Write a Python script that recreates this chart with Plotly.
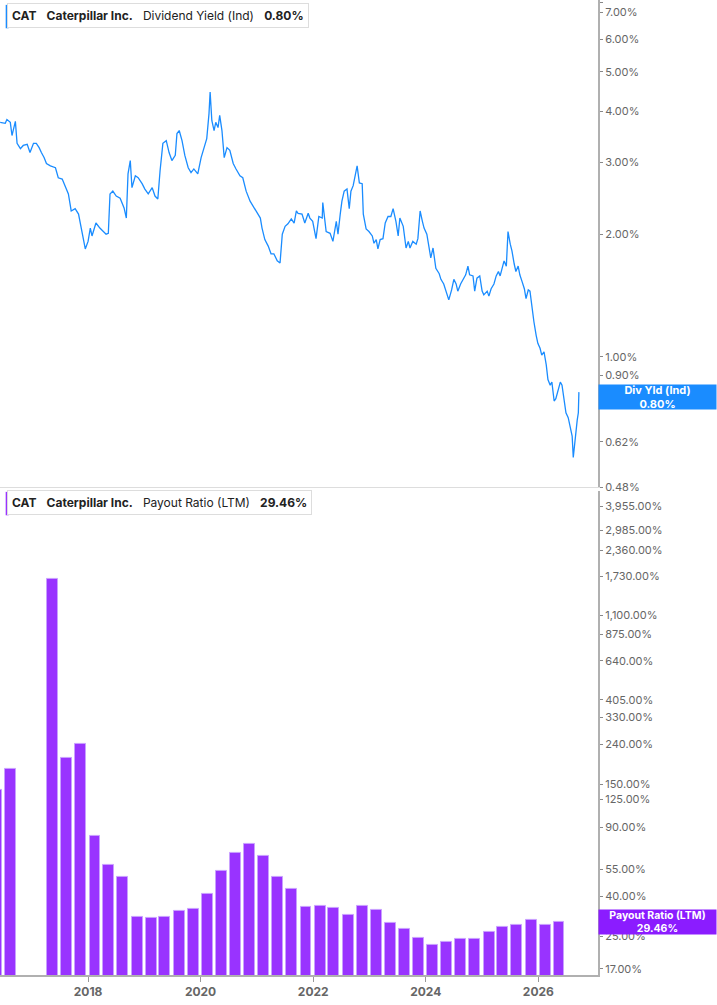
import plotly.graph_objects as go
from plotly.subplots import make_subplots
import pandas as pd
import math

# Dividend yield (%) sampled by decimal year
yld_year = [2016.44,2016.53,2016.56,2016.62,2016.65,2016.71,2016.74,2016.80,2016.85,2016.92,2016.97,2017.03,2017.08,2017.13,2017.17,2017.22,2017.26,2017.33,2017.42,2017.47,2017.54,2017.59,2017.65,2017.70,2017.77,2017.83,2017.86,2017.90,2017.95,2018.00,2018.04,2018.07,2018.14,2018.21,2018.27,2018.32,2018.36,2018.39,2018.44,2018.50,2018.57,2018.64,2018.68,2018.71,2018.75,2018.78,2018.84,2018.89,2018.96,2019.01,2019.07,2019.14,2019.19,2019.24,2019.28,2019.33,2019.39,2019.44,2019.49,2019.55,2019.58,2019.62,2019.67,2019.72,2019.78,2019.83,2019.88,2019.95,2020.01,2020.06,2020.11,2020.15,2020.17,2020.20,2020.24,2020.27,2020.31,2020.34,2020.38,2020.42,2020.47,2020.52,2020.58,2020.63,2020.70,2020.75,2020.81,2020.88,2020.95,2021.00,2021.06,2021.09,2021.14,2021.20,2021.25,2021.30,2021.36,2021.41,2021.45,2021.50,2021.55,2021.61,2021.66,2021.70,2021.73,2021.80,2021.85,2021.91,2021.94,2021.99,2022.05,2022.10,2022.16,2022.17,2022.23,2022.30,2022.35,2022.41,2022.44,2022.48,2022.51,2022.55,2022.60,2022.64,2022.67,2022.71,2022.74,2022.78,2022.82,2022.87,2022.89,2022.94,2022.99,2023.05,2023.08,2023.12,2023.15,2023.19,2023.24,2023.28,2023.33,2023.38,2023.42,2023.47,2023.51,2023.54,2023.60,2023.65,2023.69,2023.72,2023.77,2023.83,2023.86,2023.90,2023.94,2023.97,2024.02,2024.06,2024.09,2024.13,2024.18,2024.24,2024.27,2024.32,2024.36,2024.41,2024.46,2024.50,2024.54,2024.57,2024.62,2024.68,2024.71,2024.75,2024.78,2024.84,2024.87,2024.91,2024.96,2025.00,2025.03,2025.09,2025.12,2025.16,2025.21,2025.25,2025.29,2025.32,2025.36,2025.39,2025.43,2025.46,2025.50,2025.53,2025.57,2025.60,2025.64,2025.67,2025.71,2025.75,2025.78,2025.82,2025.85,2025.89,2025.92,2025.96,2025.99,2026.03,2026.06,2026.10,2026.14,2026.17,2026.21,2026.24,2026.28,2026.31,2026.35,2026.39,2026.42,2026.46,2026.49,2026.53,2026.56,2026.60,2026.62,2026.65,2026.69,2026.71,2026.72]
yld_val = [3.76,3.74,3.82,3.76,3.49,3.78,3.34,3.24,3.30,3.32,3.17,3.34,3.34,3.26,3.17,3.08,2.98,2.94,2.91,2.75,2.73,2.63,2.51,2.28,2.31,2.24,2.12,2.00,1.84,1.92,2.07,1.98,2.13,2.07,2.03,2.00,2.01,2.51,2.55,2.48,2.45,2.32,2.19,2.81,3.03,2.60,2.78,2.75,2.66,2.58,2.51,2.60,2.48,2.44,2.86,3.34,3.39,3.17,3.03,3.12,3.53,3.59,3.39,3.12,2.91,2.83,2.89,2.81,3.08,3.24,3.43,3.95,4.46,3.80,3.59,3.76,3.65,3.91,3.59,3.08,3.26,3.21,2.98,2.89,2.78,2.75,2.55,2.41,2.32,2.25,2.19,2.07,1.94,1.87,1.79,1.79,1.72,1.70,2.00,2.09,2.12,2.18,2.13,2.28,2.25,2.24,2.13,2.25,2.19,2.15,1.95,2.21,2.19,2.39,2.03,2.01,1.92,2.15,2.00,2.24,2.41,2.55,2.58,2.31,2.55,2.63,2.75,2.94,2.67,2.66,2.24,2.06,2.03,1.98,1.90,1.94,1.84,1.94,1.95,2.13,2.21,2.21,2.31,2.15,1.98,2.19,2.09,1.85,1.92,1.85,1.92,1.89,1.95,2.28,2.15,2.07,2.00,1.82,1.75,1.85,1.65,1.60,1.55,1.51,1.45,1.38,1.46,1.55,1.51,1.45,1.51,1.56,1.59,1.67,1.59,1.58,1.45,1.56,1.58,1.45,1.42,1.45,1.41,1.47,1.51,1.58,1.62,1.58,1.67,1.72,1.67,2.03,1.89,1.82,1.69,1.62,1.67,1.59,1.53,1.47,1.39,1.46,1.45,1.29,1.22,1.13,1.08,1.05,1.01,1.03,0.956,0.88,0.853,0.868,0.78,0.79,0.83,0.868,0.853,0.774,0.73,0.71,0.68,0.64,0.567,0.63,0.70,0.73,0.82,0.80]

# Payout ratio (LTM, %) quarterly
pay_dates = ["2016-05-15","2016-08-15","2016-11-15","2017-02-15","2017-05-15","2017-08-15","2017-11-15",
             "2018-02-15","2018-05-15","2018-08-15","2018-11-15","2019-02-15","2019-05-15","2019-08-15","2019-11-15",
             "2020-02-15","2020-05-15","2020-08-15","2020-11-15","2021-02-15","2021-05-15","2021-08-15","2021-11-15",
             "2022-02-15","2022-05-15","2022-08-15","2022-11-15","2023-02-15","2023-05-15","2023-08-15","2023-11-15",
             "2024-02-15","2024-05-15","2024-08-15","2024-11-15","2025-02-15","2025-05-15","2025-08-15","2025-11-15",
             "2026-02-15","2026-05-15"]
pay_val = [140,180,None,None,1690,203,240,81,58,50,31.4,30.8,31.4,33.6,34.4,41,54,66.5,74,64,50,43.5,35.3,
           35.8,34.8,32,35.8,34,29.2,27.2,24.5,22.6,23.4,24.2,24.2,26.3,27.9,28.5,30.3,28.5,29.46]

top_ticks = [0.48,0.62,0.76,0.90,1.00,2.00,3.00,4.00,5.00,6.00,7.00,7.39]
bot_ticks = [17,25,40,55,90,125,150,240,330,405,640,875,1100,1730,2360,2985,3955]
x_years = [2018,2020,2022,2024,2026]

def yr2date(y):
    yi = int(y)
    return pd.Timestamp(yi, 1, 1) + pd.Timedelta(days=(y - yi) * 365.25)

yld_dates = [yr2date(y) for y in yld_year]

BLUE = "#1a8cff"
PURP = "#9933ff"
GRAY = "#666"

fig = make_subplots(rows=2, cols=1, shared_xaxes=True, vertical_spacing=0.004,
                    row_heights=[0.5015, 0.4985])
fig.add_trace(go.Scatter(x=yld_dates, y=yld_val, mode="lines",
                         line=dict(color=BLUE, width=1.3)), row=1, col=1)
fig.add_trace(go.Bar(x=pd.to_datetime(pay_dates), y=pay_val, marker=dict(color=PURP, line=dict(color="#c9a0ff", width=1)),
                     width=71 * 86400000), row=2, col=1)

fmt = lambda v: f"{v:,.2f}%"
fig.update_yaxes(type="log", side="right", tickvals=top_ticks, ticktext=[fmt(v) for v in top_ticks],
                 range=[math.log10(0.48), math.log10(7.5)], row=1, col=1)
fig.update_yaxes(type="log", side="right", tickvals=bot_ticks, ticktext=[fmt(v) for v in bot_ticks],
                 range=[math.log10(15.8), math.log10(4750)], row=2, col=1)
fig.update_yaxes(showgrid=False, ticks="outside", ticklen=3, tickcolor="#888", showline=True,
                 linecolor="#b0b0b0", linewidth=2, tickfont=dict(family="Inter", size=11, color=GRAY), zeroline=False)
xr = [yr2date(2016.437), yr2date(2027.06)]
fig.update_xaxes(range=xr, showgrid=False, zeroline=False)
fig.update_xaxes(showline=True, linecolor="#dddddd", linewidth=1, showticklabels=False, row=1, col=1)
fig.update_xaxes(showline=True, linecolor="#b0b0b0", linewidth=2, ticks="outside", ticklen=5, tickcolor="#999",
                 tickvals=[pd.Timestamp(y, 1, 1) for y in x_years], ticktext=[str(y) for y in x_years],
                 tickfont=dict(family="Inter", size=12, color=GRAY, weight="bold"), row=2, col=1)

def legend(y, text, color):
    fig.add_annotation(xref="paper", yref="paper", x=0.012, y=y, xanchor="left", yanchor="top",
                       text=text, showarrow=False, bgcolor="white", bordercolor="#dddddd", borderwidth=1,
                       borderpad=4, font=dict(family="Inter", size=12, color="#222"))
    fig.add_shape(type="line", xref="paper", yref="paper", x0=0.012, x1=0.012, y0=y - 0.026, y1=y - 0.002,
                  line=dict(color=color, width=3))

legend(0.997, "<b>CAT</b>   <b>Caterpillar Inc.</b>   Dividend Yield (Ind)   <b>0.80%</b>", BLUE)
legend(0.4975, "<b>CAT</b>   <b>Caterpillar Inc.</b>   Payout Ratio (LTM)   <b>29.46%</b>", PURP)

fig.add_annotation(xref="paper", yref="y", x=1.0, y=math.log10(0.80), xanchor="left",
                   text="<b>Div Yld (Ind)<br>0.80%</b>", showarrow=False, bgcolor=BLUE, width=117, height=24,
                   font=dict(family="Inter", size=11, color="white"), borderpad=0)
fig.add_annotation(xref="paper", yref="y2", x=1.0, y=math.log10(29.46), xanchor="left",
                   text="<b>Payout Ratio (LTM)<br>29.46%</b>", showarrow=False, bgcolor="#8b1cff", width=117, height=24,
                   font=dict(family="Inter", size=10.5, color="white"), borderpad=0)

fig.update_layout(width=717, height=1005, margin=dict(l=0, r=119, t=0, b=30), showlegend=False,
                  plot_bgcolor="white", paper_bgcolor="white", bargap=0)
fig.write_html("out.html", config={"displayModeBar": False},
               post_script="document.body.style.margin='0';document.body.style.overflow='hidden';")
